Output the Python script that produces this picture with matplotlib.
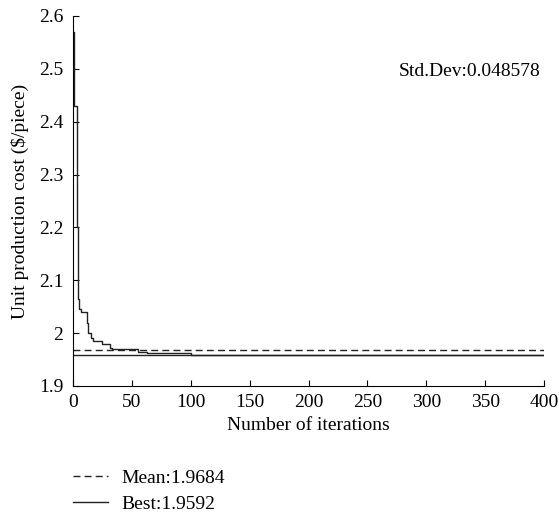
import numpy as np
import matplotlib
matplotlib.use('Agg')
import matplotlib.pyplot as plt

plt.rcParams['font.family'] = ['Liberation Serif', 'DejaVu Serif']
plt.rcParams['font.size'] = 14

# convergence of the best solution (step breakpoints)
iters = [0, 1, 3, 4, 5, 7, 12, 13, 15, 17, 25, 31, 33, 55, 63, 100, 400]
best = [2.57, 2.43, 2.20, 2.065, 2.045, 2.04, 2.02, 2.0, 1.99, 1.985, 1.98,
        1.972, 1.97, 1.965, 1.962, 1.9592, 1.9592]
mean_val = 1.9684
best_val = 1.9592
std_dev = 0.048578

yticks = [1.9, 2.0, 2.1, 2.2, 2.3, 2.4, 2.5, 2.6]
yticklabels = ['1.9', '2', '2.1', '2.2', '2.3', '2.4', '2.5', '2.6']
xticks = [0, 50, 100, 150, 200, 250, 300, 350, 400]

W, H = 559, 517
fig = plt.figure(figsize=(W / 100, H / 100), dpi=100)
ax = fig.add_axes([73 / W, 1 - 386 / H, (544 - 73) / W, (386 - 16) / H])

ax.plot(iters, best, color='#222222', linewidth=1.0, drawstyle='steps-post')
ax.axhline(mean_val, color='#222222', linewidth=1.0, linestyle=(0, (5, 3)),
           label='Mean:%.4f' % mean_val)
ax.axhline(best_val, color='#222222', linewidth=1.0, label='Best:%.4f' % best_val)

ax.set_xlim(0, 400)
ax.set_ylim(1.9, 2.6)
ax.set_xticks(xticks)
ax.set_yticks(yticks)
ax.set_yticklabels(yticklabels)
for s in ['top', 'right']:
    ax.spines[s].set_visible(False)
ax.tick_params(direction='in', length=4, width=0.8)
ax.tick_params(axis='x', pad=6)
ax.tick_params(axis='y', pad=7)
ax.set_xlabel('Number of iterations', labelpad=4)
ax.set_ylabel('Unit production cost (\\$/piece)', labelpad=7)

fig.text(541 / W, 1 - 72 / H, 'Std.Dev:%.6f' % std_dev, ha='right', va='center')

fig.legend(loc='upper left', bbox_to_anchor=(73 / W, 1 - 469 / H), frameon=False,
           borderpad=0, borderaxespad=0, handlelength=1.8, handletextpad=0.7,
           labelspacing=0.46)

fig.savefig('out.png', dpi=100)
